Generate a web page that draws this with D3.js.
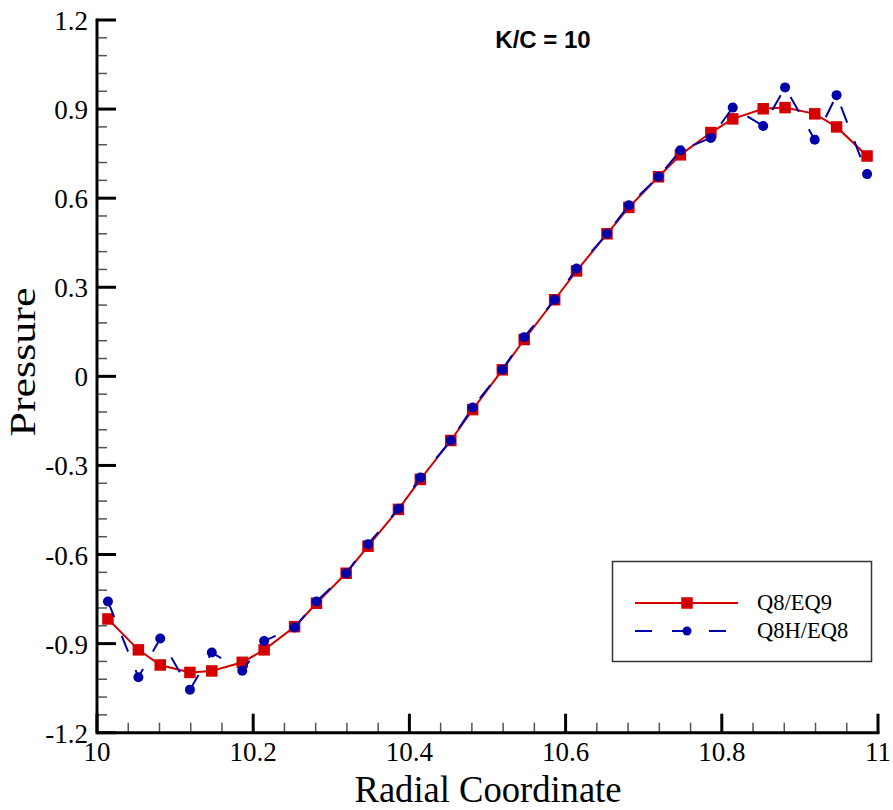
<!DOCTYPE html>
<html>
<head>
<meta charset="utf-8">
<script src="https://cdn.jsdelivr.net/npm/d3@7"></script>
<style>
  body { margin: 0; background: #fff; }
  svg { display: block; }
  .serif { font-family: "Liberation Serif", "Times New Roman", serif; }
</style>
</head>
<body>
<svg width="893" height="810"></svg>
<script>
// Radial positions (same for both series)
var radial = [10.014, 10.053, 10.081, 10.119, 10.147, 10.186, 10.214, 10.253, 10.281, 10.319,
  10.347, 10.386, 10.414, 10.453, 10.481, 10.519, 10.547, 10.586, 10.614, 10.653,
  10.681, 10.719, 10.747, 10.786, 10.814, 10.853, 10.881, 10.919, 10.947, 10.986];

// Q8/EQ9 pressure
var q8eq9 = [-0.817, -0.921, -0.972, -0.997, -0.992, -0.963, -0.921, -0.843, -0.764, -0.663,
  -0.572, -0.448, -0.347, -0.216, -0.112, 0.022, 0.124, 0.258, 0.355, 0.480,
  0.569, 0.672, 0.746, 0.821, 0.867, 0.901, 0.905, 0.884, 0.840, 0.742];

// Q8H/EQ8 pressure
var q8heq8 = [-0.758, -1.013, -0.883, -1.055, -0.930, -0.991, -0.891, -0.846, -0.758, -0.663,
  -0.565, -0.446, -0.341, -0.216, -0.105, 0.022, 0.132, 0.258, 0.363, 0.480,
  0.576, 0.672, 0.761, 0.803, 0.905, 0.843, 0.973, 0.797, 0.947, 0.681];

var xTicks = [10, 10.2, 10.4, 10.6, 10.8, 11];
var xTickLabels = ["10", "10.2", "10.4", "10.6", "10.8", "11"];
var yTicks = [-1.2, -0.9, -0.6, -0.3, 0, 0.3, 0.6, 0.9, 1.2];
var yTickLabels = ["-1.2", "-0.9", "-0.6", "-0.3", "0", "0.3", "0.6", "0.9", "1.2"];

var seriesNames = ["Q8/EQ9", "Q8H/EQ8"];
var red = "#d40000";
var blue = "#0000aa";

var svg = d3.select("svg");
var x = d3.scaleLinear().domain([10, 11]).range([97, 878]);
var y = d3.scaleLinear().domain([-1.2, 1.2]).range([732.7, 20]);

// Minor ticks
var xMinor = d3.range(0, 26).map(function(i) { return 10 + i * 0.04; })
  .filter(function(v, i) { return i % 5 != 0; });
var yMinor = d3.range(0, 41).map(function(i) { return -1.2 + i * 0.06; })
  .filter(function(v, i) { return i % 5 != 0; });

var axes = svg.append("g");
axes.selectAll(".xminor").data(xMinor).enter().append("line")
  .attr("x1", function(d) { return x(d); }).attr("x2", function(d) { return x(d); })
  .attr("y1", y(-1.2)).attr("y2", y(-1.2) - 10)
  .attr("stroke", "#555").attr("stroke-width", 1.5);
axes.selectAll(".yminor").data(yMinor).enter().append("line")
  .attr("y1", function(d) { return y(d); }).attr("y2", function(d) { return y(d); })
  .attr("x1", x(10)).attr("x2", x(10) + 10)
  .attr("stroke", "#555").attr("stroke-width", 1.5);

axes.selectAll(".xmajor").data(xTicks).enter().append("line")
  .attr("x1", function(d) { return x(d); }).attr("x2", function(d) { return x(d); })
  .attr("y1", y(-1.2)).attr("y2", y(-1.2) - 19)
  .attr("stroke", "#000").attr("stroke-width", 3);
axes.selectAll(".ymajor").data(yTicks).enter().append("line")
  .attr("y1", function(d) { return y(d); }).attr("y2", function(d) { return y(d); })
  .attr("x1", x(10)).attr("x2", x(10) + 19)
  .attr("stroke", "#000").attr("stroke-width", 3);

// Axis lines
axes.append("line").attr("x1", x(10)).attr("x2", x(11) + 1.5)
  .attr("y1", y(-1.2)).attr("y2", y(-1.2))
  .attr("stroke", "#000").attr("stroke-width", 3);
axes.append("line").attr("x1", x(10)).attr("x2", x(10))
  .attr("y1", y(1.2) - 1.5).attr("y2", y(-1.2) + 1.5)
  .attr("stroke", "#000").attr("stroke-width", 3);

// Tick labels
axes.selectAll(".xlab").data(xTicks).enter().append("text")
  .attr("class", "serif")
  .attr("x", function(d) { return x(d); }).attr("y", 761)
  .attr("text-anchor", "middle")
  .attr("font-size", 27)
  .text(function(d, i) { return xTickLabels[i]; });
axes.selectAll(".ylab").data(yTicks).enter().append("text")
  .attr("class", "serif")
  .attr("x", 88).attr("y", function(d) { return y(d) + 10; })
  .attr("text-anchor", "end")
  .attr("font-size", 27)
  .text(function(d, i) { return yTickLabels[i]; });

// Axis titles
svg.append("text").attr("class", "serif")
  .attr("x", 488).attr("y", 802)
  .attr("text-anchor", "middle")
  .attr("font-size", 37)
  .attr("textLength", 267).attr("lengthAdjust", "spacingAndGlyphs")
  .text("Radial Coordinate");
svg.append("text").attr("class", "serif")
  .attr("transform", "translate(35,362) rotate(-90)")
  .attr("text-anchor", "middle")
  .attr("font-size", 35)
  .attr("textLength", 149).attr("lengthAdjust", "spacingAndGlyphs")
  .text("Pressure");

// Title
svg.append("text").attr("x", 543).attr("y", 48)
  .attr("text-anchor", "middle")
  .attr("font-family", "Liberation Sans, Arial, sans-serif")
  .attr("font-weight", "bold")
  .attr("font-size", 24)
  .text("K/C = 10");

// Series
var lineGen = d3.line()
  .x(function(d) { return x(d[0]); })
  .y(function(d) { return y(d[1]); });

var redData = d3.zip(radial, q8eq9);
var blueData = d3.zip(radial, q8heq8);

svg.append("path").datum(redData)
  .attr("d", lineGen).attr("fill", "none")
  .attr("stroke", red).attr("stroke-width", 2);
svg.selectAll(".sq").data(redData).enter().append("rect")
  .attr("x", function(d) { return x(d[0]) - 5.75; })
  .attr("y", function(d) { return y(d[1]) - 5.75; })
  .attr("width", 11.5).attr("height", 11.5)
  .attr("fill", red);

svg.append("path").datum(blueData)
  .attr("d", lineGen).attr("fill", "none")
  .attr("stroke", blue).attr("stroke-width", 2)
  .attr("stroke-dasharray", "17,20");
svg.selectAll(".dot").data(blueData).enter().append("circle")
  .attr("cx", function(d) { return x(d[0]); })
  .attr("cy", function(d) { return y(d[1]); })
  .attr("r", 5)
  .attr("fill", blue);

// Legend
var legend = svg.append("g");
legend.append("rect").attr("x", 612.5).attr("y", 561.5)
  .attr("width", 259).attr("height", 100)
  .attr("fill", "#fff").attr("stroke", "#333").attr("stroke-width", 1.5);
legend.append("line").attr("x1", 635).attr("x2", 738).attr("y1", 603).attr("y2", 603)
  .attr("stroke", red).attr("stroke-width", 2);
legend.append("rect").attr("x", 687 - 5.75).attr("y", 603 - 5.75)
  .attr("width", 11.5).attr("height", 11.5).attr("fill", red);
legend.append("line").attr("x1", 635).attr("x2", 738).attr("y1", 631).attr("y2", 631)
  .attr("stroke", blue).attr("stroke-width", 2).attr("stroke-dasharray", "17,20");
legend.append("circle").attr("cx", 687).attr("cy", 631).attr("r", 4.5).attr("fill", blue);
legend.selectAll(".ltext").data(seriesNames).enter().append("text")
  .attr("class", "serif")
  .attr("x", 757).attr("y", function(d, i) { return 610 + i * 28; })
  .attr("font-size", 22.5)
  .text(function(d) { return d; });
</script>
</body>
</html>
